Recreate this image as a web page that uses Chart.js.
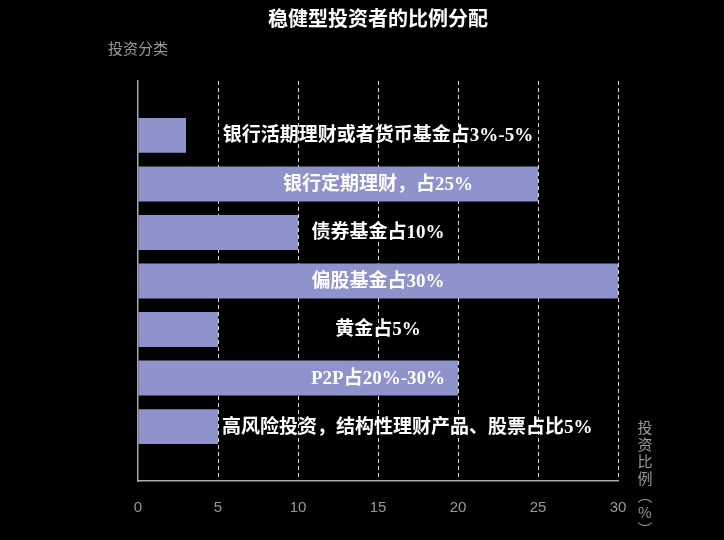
<!DOCTYPE html>
<html>
<head>
<meta charset="utf-8">
<title>稳健型投资者的比例分配</title>
<script src="https://cdn.jsdelivr.net/npm/chart.js@4/dist/chart.umd.min.js"></script>
<style>
    body { margin: 0; background: #000; }
    #chart { display: block; }
</style>
</head>
<body>
<canvas id="chart" width="724" height="540"></canvas>
<script>
// Chart data
const categories = ['银行活期理财或货币基金', '银行定期理财', '债券基金', '偏股基金', '黄金', 'P2P', '高风险投资'];
const shares = [3, 25, 10, 30, 5, 20, 5];
const barLabels = [
    '银行活期理财或者货币基金占3%-5%',
    '银行定期理财，占25%',
    '债券基金占10%',
    '偏股基金占30%',
    '黄金占5%',
    'P2P占20%-30%',
    '高风险投资，结构性理财产品、股票占比5%'
];
const xTicks = [0, 5, 10, 15, 20, 25, 30];

const titleText = '稳健型投资者的比例分配';
const yName = '投资分类';
const xNameChars = ['投', '资', '比', '例', '︵', '%', '︶'];

// Titles, axis names and bar labels
const textPlugin = {
    id: 'texts',
    afterDatasetsDraw(chart) {
        const ctx = chart.ctx;
        const area = chart.chartArea;
        const mid = (area.left + area.right) / 2;
        const meta = chart.getDatasetMeta(0);

        ctx.save();
        ctx.textBaseline = 'middle';

        // bar labels: centred on the plot, pushed past the bar end if they would straddle it
        ctx.font = 'bold 19px "Liberation Serif", "Noto Sans CJK SC", serif';
        ctx.fillStyle = '#fff';
        ctx.textAlign = 'left';
        meta.data.forEach(function(bar, i) {
            const w = ctx.measureText(barLabels[i]).width;
            let x = mid - w / 2;
            if (x < bar.x && x + w > bar.x) x = bar.x + 4;
            ctx.fillText(barLabels[i], x, bar.y + 1);
        });

        // title
        ctx.textAlign = 'center';
        ctx.font = 'bold 20px "Noto Sans CJK SC", sans-serif';
        ctx.fillText(titleText, mid, 18);

        // axis names
        ctx.fillStyle = '#999';
        ctx.font = '15px "Noto Sans CJK SC", sans-serif';
        ctx.fillText(yName, area.left, 48);
        xNameChars.forEach(function(ch, i) {
            ctx.fillText(ch, area.right + 27, area.bottom - 54 + i * 17);
        });
        ctx.restore();
    }
};

const ctx = document.getElementById('chart').getContext('2d');
new Chart(ctx, {
    type: 'bar',
    data: {
        labels: categories,
        datasets: [{
            data: shares.map(function(v, i) { return { x: v, y: i }; }),
            backgroundColor: '#8f93cb',
            borderWidth: 0,
            categoryPercentage: 1,
            barPercentage: 0.72
        }]
    },
    options: {
        indexAxis: 'y',
        responsive: false,
        animation: false,
        layout: {
            padding: { left: 138, right: 106, top: 81, bottom: 5 }
        },
        plugins: {
            legend: { display: false },
            tooltip: { enabled: false }
        },
        scales: {
            x: {
                type: 'linear',
                min: xTicks[0],
                max: xTicks[xTicks.length - 1],
                afterBuildTicks: function(scale) {
                    scale.ticks = xTicks.map(function(v) { return { value: v }; });
                },
                grid: {
                    drawTicks: false,
                    color: function(c) { return c.tick && c.tick.value === 0 ? 'rgba(0,0,0,0)' : '#d8d8d8'; },
                    lineWidth: 1
                },
                border: { display: true, color: '#aaa', width: 1.5, dash: [4, 3] },
                ticks: {
                    padding: 18,
                    color: '#999',
                    font: { family: '"Liberation Sans", Arial, sans-serif', size: 15 }
                }
            },
            y: {
                type: 'linear',
                reverse: true,
                offset: false,
                min: -1.12,
                max: categories.length - 1 + 1.12,
                grid: { display: false, drawTicks: false },
                border: { display: true, color: '#aaa', width: 1.5 },
                ticks: { display: false }
            }
        }
    },
    plugins: [textPlugin]
});
</script>
</body>
</html>
